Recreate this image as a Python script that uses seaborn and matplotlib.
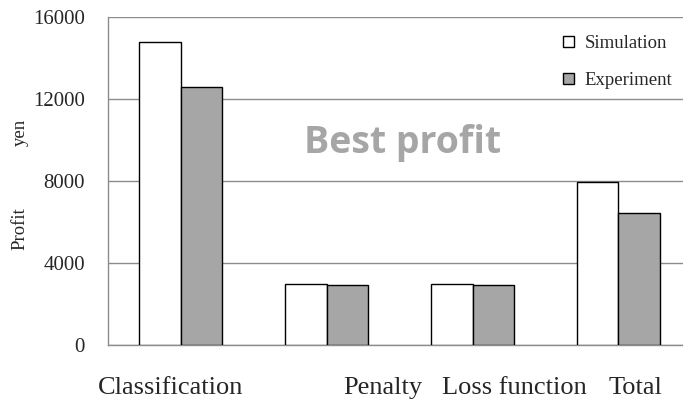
import matplotlib
matplotlib.use("Agg")
import matplotlib.pyplot as plt
import seaborn as sns
import pandas as pd

categories = ["Classification", "Penalty", "Loss function", "Total"]
simulation = [14770, 3000, 3000, 7950]
experiment = [12600, 2950, 2950, 6450]
series_names = ["Simulation", "Experiment"]
y_ticks = [0, 4000, 8000, 12000, 16000]

df = pd.DataFrame({
    "category": categories * 2,
    "series": [series_names[0]] * len(categories) + [series_names[1]] * len(categories),
    "value": simulation + experiment,
})

sns.set_theme(style="white")
plt.rcParams["font.family"] = ["Liberation Serif", "DejaVu Serif"]

fig = plt.figure(figsize=(6.83, 4.01), dpi=100)
ax = fig.add_axes([108 / 683, 56 / 401, 583.3 / 683, 328 / 401])

sns.barplot(data=df, x="category", y="value", hue="series",
            palette=["#ffffff", "#a6a6a6"], edgecolor="black", linewidth=1.0,
            width=0.57, ax=ax, legend=True, zorder=3)

ax.set_xlim(-0.5, 3.5)
ax.set_ylim(0, 16000)
ax.set_yticks(y_ticks)
ax.set_yticklabels([str(v) for v in y_ticks], fontsize=15)
ax.tick_params(axis="y", length=0, pad=16.5)
ax.tick_params(axis="x", length=0)
ax.set_xticks(range(len(categories)))
ax.set_xticklabels([""] * len(categories))
ax.set_xlabel("")
ax.set_ylabel("")
ax.yaxis.grid(True, color="#8c8c8c", linewidth=1.0, zorder=0)
ax.set_axisbelow(True)
for s in ["top", "right"]:
    ax.spines[s].set_visible(False)
for s in ["left", "bottom"]:
    ax.spines[s].set_color("#8c8c8c")
    ax.spines[s].set_linewidth(1.0)

offsets = [-10, 56, 42, 17]
for i, (lab, off) in enumerate(zip(categories, offsets)):
    ax.annotate(lab, xy=(i, 0), xycoords=("data", "axes fraction"),
                xytext=(off, -43), textcoords="offset pixels",
                ha="center", va="center", fontsize=19)

leg = ax.legend(loc="upper right", bbox_to_anchor=(0.997, 0.997),
                frameon=False, fontsize=13.5, handlelength=0.55, handleheight=0.55,
                handletextpad=0.6, labelspacing=1.07)

ax.text(0.505, 0.615, "Best profit", transform=ax.transAxes, ha="center", va="center",
        fontsize=27, fontweight="bold", color="#a6a6a6", family=["Open Sans", "DejaVu Sans"])

fig.text(20 / 683, 1 - 132 / 401, "yen", rotation=90, ha="center", va="center", fontsize=13.5)
fig.text(20 / 683, 1 - 229 / 401, "Profit", rotation=90, ha="center", va="center", fontsize=13.5)

fig.savefig("out.png", dpi=100)
